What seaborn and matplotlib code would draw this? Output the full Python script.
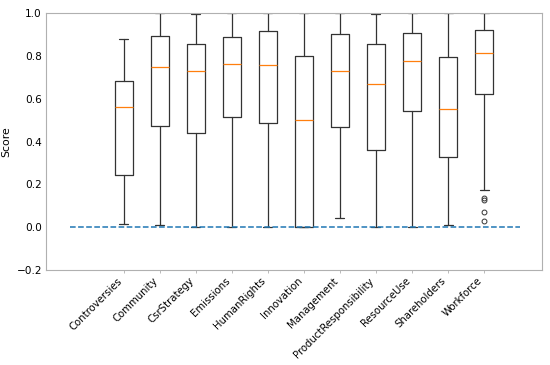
import matplotlib
matplotlib.use("Agg")
import matplotlib.pyplot as plt
import seaborn as sns

# five-number summaries (whisker low, Q1, median, Q3, whisker high)
categories = ["Controversies", "Community", "CsrStrategy", "Emissions", "HumanRights",
              "Innovation", "Management", "ProductResponsibility", "ResourceUse",
              "Shareholders", "Workforce"]
whisker_low = [0.015, 0.011, 0.0, 0.0, 0.0, 0.0, 0.044, 0.0, 0.0, 0.009, 0.174]
q1 = [0.246, 0.471, 0.442, 0.513, 0.488, 0.0, 0.468, 0.361, 0.541, 0.328, 0.621]
median = [0.560, 0.747, 0.729, 0.762, 0.757, 0.501, 0.728, 0.669, 0.775, 0.551, 0.812]
q3 = [0.681, 0.893, 0.854, 0.888, 0.916, 0.798, 0.904, 0.856, 0.908, 0.796, 0.919]
whisker_high = [0.879, 1.0, 0.994, 1.0, 1.0, 1.0, 1.0, 0.994, 1.0, 1.0, 1.0]
outliers = [[], [], [], [], [], [], [], [], [], [], [0.137, 0.126, 0.070, 0.031]]

sns.set_style("white", rc={"text.color": "black", "axes.labelcolor": "black",
                           "xtick.color": "black", "ytick.color": "black"})
plt.rcParams["font.family"] = ["DejaVu Sans"]

stats = []
for i, name in enumerate(categories):
    stats.append(dict(label=name, whislo=whisker_low[i], q1=q1[i], med=median[i],
                      q3=q3[i], whishi=whisker_high[i], fliers=outliers[i]))

fig, ax = plt.subplots(figsize=(5.5, 3.65), dpi=100)
fig.subplots_adjust(left=0.084, right=0.985, top=0.964, bottom=0.26)

line_col = "#333333"
ax.bxp(stats, positions=range(len(categories)), widths=0.5,
       boxprops=dict(color=line_col, linewidth=0.9),
       whiskerprops=dict(color=line_col, linewidth=0.9),
       capprops=dict(color=line_col, linewidth=0.9),
       medianprops=dict(color="#ff7f0e", linewidth=0.9),
       flierprops=dict(marker="o", markersize=3.5, markerfacecolor="none",
                       markeredgecolor=line_col, markeredgewidth=0.7))

ax.hlines(0, -1.5, 11, colors="#1f77b4", linestyles="--", linewidth=1.1)

ax.set_xlim(-2.15, 11.6)
ax.set_ylim(-0.2, 1.0)
ax.set_xticks(range(len(categories)))
ax.set_xticklabels(categories, rotation=45, ha="right", fontsize=7.3)
ax.set_ylabel("Score", fontsize=7.8, labelpad=4)
ax.tick_params(axis="x", length=2, width=0.6, color="#b0b0b0", pad=2, bottom=True)
ax.tick_params(axis="y", length=0, labelsize=7.6, pad=3, left=True)
for sp in ax.spines.values():
    sp.set_color("#b0b0b0")
    sp.set_linewidth(0.8)

fig.savefig("out.png", dpi=100)
